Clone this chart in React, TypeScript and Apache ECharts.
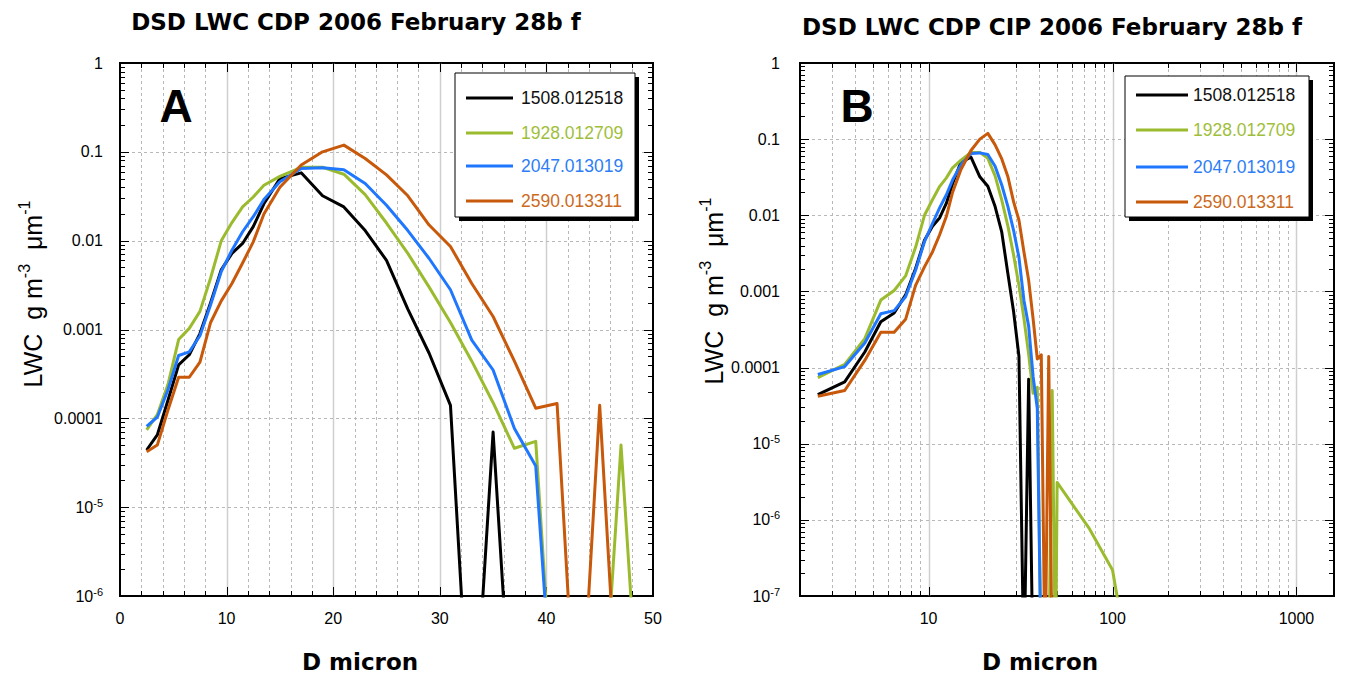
import React, { useEffect, useRef } from 'react';
import * as echarts from 'echarts';

// ---------------- data ----------------
const cdpDiameters = [2.5, 3.5, 4.5, 5.5, 6.5, 7.5, 8.5, 9.5, 10.5, 11.5, 12.5, 13.5, 15, 17, 19, 21, 23, 25, 27, 29, 31, 33, 35, 37, 39, 41, 43, 45, 47, 49];
const cipDiameters = [50, 75, 100, 125];

const seriesNames = ['1508.012518', '1928.012709', '2047.013019', '2590.013311'];
const seriesColors = ['#000000', '#9bbb2f', '#1f77ff', '#c8580a'];
const legendTextColors = ['#111111', '#9fbe3a', '#2d7df7', '#cc6a22'];

const cdpBlack = [4.4e-5, 6.5e-5, 1.6e-4, 4.0e-4, 5.2e-4, 9.0e-4, 2.0e-3, 4.7e-3, 7.2e-3, 9.3e-3, 1.44e-2, 2.6e-2, 5.0e-2, 5.8e-2, 3.2e-2, 2.4e-2, 1.3e-2, 6.0e-3, 1.7e-3, 5.4e-4, 1.4e-4, 0, 7.0e-5, 0, 0, 0, 0, 0, 0, 0];
const cdpGreen = [7.4e-5, 1.1e-4, 2.4e-4, 7.7e-4, 1.03e-3, 1.6e-3, 3.8e-3, 1.0e-2, 1.6e-2, 2.4e-2, 3.1e-2, 4.2e-2, 5.3e-2, 6.7e-2, 6.7e-2, 5.6e-2, 3.3e-2, 1.58e-2, 7.2e-3, 3.0e-3, 1.2e-3, 4.4e-4, 1.5e-4, 4.6e-5, 5.5e-5, 0, 0, 0, 5.0e-5, 0];
const cdpBlue = [8.1e-5, 1.03e-4, 2.1e-4, 5.1e-4, 5.6e-4, 8.5e-4, 1.9e-3, 4.5e-3, 7.8e-3, 1.26e-2, 1.86e-2, 2.9e-2, 4.6e-2, 6.5e-2, 6.6e-2, 6.3e-2, 4.4e-2, 2.5e-2, 1.3e-2, 6.3e-3, 2.8e-3, 7.6e-4, 3.5e-4, 7.7e-5, 2.9e-5, 0, 0, 0, 0, 0];
const cdpOrange = [4.2e-5, 5.0e-5, 1.24e-4, 2.9e-4, 2.9e-4, 4.3e-4, 1.2e-3, 2.1e-3, 3.3e-3, 5.6e-3, 9.7e-3, 2.0e-2, 4.0e-2, 7.1e-2, 1.0e-1, 1.19e-1, 8.4e-2, 5.5e-2, 3.2e-2, 1.5e-2, 8.6e-3, 3.3e-3, 1.4e-3, 4.4e-4, 1.3e-4, 1.47e-4, 0, 1.4e-4, 0, 0];

const cipBlack = [0, 0, 0, 0];
const cipGreen = [3.1e-6, 7.6e-7, 2.2e-7, 0];
const cipBlue = [0, 0, 0, 0];
const cipOrange = [0, 0, 0, 0];

const cdpValues = [cdpBlack, cdpGreen, cdpBlue, cdpOrange];
const cipValues = [cipBlack, cipGreen, cipBlue, cipOrange];

const panelATitle = 'DSD LWC CDP 2006 February 28b f';
const panelBTitle = 'DSD LWC CDP CIP 2006 February 28b f';
const xAxisTitle = 'D micron';
const yAxisTitle = 'LWC  g m{sup|-3}  \u03bcm{sup|-1}';

// axis ranges & decorations
const xRangeA = [0, 50];
const yRangeA = [1e-6, 1];
const xRangeB = [2, 1600];
const yRangeB = [1e-7, 1];
const linearMinorA = [2, 4, 6, 8, 12, 14, 16, 18, 22, 24, 26, 28, 32, 34, 36, 38, 42, 44, 46, 48];
const linearMajorA = [10, 20, 30, 40];
const logFactors = [2, 3, 4, 5, 6, 7, 8, 9];
const yDecadesA = [1e-6, 1e-5, 1e-4, 1e-3, 1e-2, 1e-1, 1];
const yDecadesB = [1e-7, 1e-6, 1e-5, 1e-4, 1e-3, 1e-2, 1e-1, 1];
const xDecadesB = [1, 10, 100, 1000];

const ZERO_FLOOR = 1e-8;
const FONT = '"Liberation Sans", Arial, sans-serif';
const BOLD_FONT = '"DejaVu Sans", sans-serif';

const pairs = (xs: number[], ys: number[]) => xs.map((x, i) => [x, ys[i] > 0 ? ys[i] : ZERO_FLOOR]);

const minorsOf = (decades: number[], lo: number, hi: number) => {
  const out: number[] = [];
  decades.forEach((d) => logFactors.forEach((f) => {
    const v = d * f;
    if (v > lo * 1.0001 && v < hi * 0.9999) out.push(v);
  }));
  return out;
};

const yLabel = (v: number) => {
  const l = Math.log10(v);
  const e = Math.round(l);
  if (Math.abs(l - e) > 1e-6) return '';
  if (e >= 0) return String(Math.round(10 ** e));
  if (e >= -4) return (10 ** e).toFixed(-e);
  return `10{sup|${e}}`;
};

const xLabelB = (v: number) => {
  const l = Math.log10(v);
  const e = Math.round(l);
  if (Math.abs(l - e) > 1e-6 || e < 1) return '';
  return String(Math.round(10 ** e));
};

type Deco = {
  xMinor: number[]; xMajor: number[]; yMinor: number[]; yMajor: number[];
  xGridDashed: number[]; xGridSolid: number[]; yGridDashed: number[];
  xr: number[]; yr: number[];
};

const makeDeco = (d: Deco) => (params: any, api: any) => {
  const children: any[] = [];
  const p = (x: number, y: number) => api.coord([x, y]);
  const left = p(d.xr[0], d.yr[0])[0];
  const right = p(d.xr[1], d.yr[0])[0];
  const bottom = p(d.xr[0], d.yr[0])[1];
  const top = p(d.xr[0], d.yr[1])[1];
  const r = (v: number) => Math.round(v) + 0.5;
  const dashed = { stroke: '#b8b8b8', lineWidth: 1, lineDash: [3, 3] };
  const solid = { stroke: '#cfcfcf', lineWidth: 1.5 };
  const tick = { stroke: '#000', lineWidth: 1 };
  d.xGridDashed.forEach((v) => {
    const x = r(p(v, d.yr[0])[0]);
    children.push({ type: 'line', shape: { x1: x, y1: top, x2: x, y2: bottom }, style: dashed });
  });
  d.xGridSolid.forEach((v) => {
    const x = r(p(v, d.yr[0])[0]);
    children.push({ type: 'line', shape: { x1: x, y1: top, x2: x, y2: bottom }, style: solid });
  });
  d.yGridDashed.forEach((v) => {
    const y = r(p(d.xr[0], v)[1]);
    children.push({ type: 'line', shape: { x1: left, y1: y, x2: right, y2: y }, style: dashed });
  });
  const xt = (vals: number[], len: number) => vals.forEach((v) => {
    const x = r(p(v, d.yr[0])[0]);
    children.push({ type: 'line', shape: { x1: x, y1: bottom, x2: x, y2: bottom - len }, style: tick });
    children.push({ type: 'line', shape: { x1: x, y1: top, x2: x, y2: top + len }, style: tick });
  });
  const yt = (vals: number[], len: number) => vals.forEach((v) => {
    const y = r(p(d.xr[0], v)[1]);
    children.push({ type: 'line', shape: { x1: left, y1: y, x2: left + len, y2: y }, style: tick });
    children.push({ type: 'line', shape: { x1: right, y1: y, x2: right - len, y2: y }, style: tick });
  });
  xt(d.xMinor, 5);
  xt(d.xMajor, 9);
  yt(d.yMinor, 5);
  yt(d.yMajor, 9);
  return { type: 'group', children };
};

const legendElements = (left: number, top: number, width: number, height: number, rowYs: number[], lineX: number[], textX: number) => {
  const els: any[] = [];
  els.push({ type: 'rect', shape: { x: left + 4, y: top + 4, width, height }, style: { fill: '#000' }, z: 100 });
  els.push({ type: 'rect', shape: { x: left, y: top, width, height }, style: { fill: '#fff', stroke: '#000', lineWidth: 1 }, z: 101 });
  seriesNames.forEach((name, i) => {
    els.push({ type: 'line', shape: { x1: lineX[0], y1: rowYs[i], x2: lineX[1], y2: rowYs[i] }, style: { stroke: seriesColors[i], lineWidth: 3 }, z: 102 });
    els.push({
      type: 'text', x: textX, y: rowYs[i], z: 102,
      style: { text: name, fill: legendTextColors[i], fontSize: 17.5, fontFamily: FONT, align: 'left', verticalAlign: 'middle', textAlign: 'left', textVerticalAlign: 'middle' },
    });
  });
  return els;
};

const textEl = (text: string, x: number, y: number, fontSize: number, family: string, weight: string, extra: any = {}) => ({
  type: 'text', x, y, z: 110, ...extra,
  style: {
    text, fill: '#000', fontSize, fontFamily: family, fontWeight: weight,
    align: 'center', verticalAlign: 'middle', textAlign: 'center', textVerticalAlign: 'middle',
    ...(extra.style || {}),
  },
});

export default function App() {
  const ref = useRef<HTMLDivElement>(null);
  useEffect(() => {
    if (!ref.current) return;
    const chart = echarts.init(ref.current, undefined, { renderer: 'svg' });

    const axisLabelBase = { fontSize: 16, color: '#000', fontFamily: FONT };
    const supRich = { sup: { fontSize: 11, fontFamily: FONT, color: '#000', verticalAlign: 'top', lineHeight: 11 } };
    const yNameRich = { sup: { fontSize: 16, fontFamily: FONT, fill: '#000', verticalAlign: 'top', lineHeight: 16 } };

    const decoA: Deco = {
      xMinor: linearMinorA, xMajor: linearMajorA,
      yMinor: minorsOf(yDecadesA, yRangeA[0], yRangeA[1]), yMajor: yDecadesA,
      xGridDashed: linearMinorA, xGridSolid: linearMajorA,
      yGridDashed: yDecadesA.filter((v) => v > yRangeA[0] && v < yRangeA[1]),
      xr: xRangeA, yr: yRangeA,
    };
    const xMinorB = minorsOf(xDecadesB, xRangeB[0], xRangeB[1]);
    const xMajorB = xDecadesB.filter((v) => v > xRangeB[0] && v < xRangeB[1]);
    const decoB: Deco = {
      xMinor: xMinorB, xMajor: xMajorB,
      yMinor: minorsOf(yDecadesB, yRangeB[0], yRangeB[1]), yMajor: yDecadesB,
      xGridDashed: xMinorB, xGridSolid: xMajorB,
      yGridDashed: yDecadesB.filter((v) => v > yRangeB[0] && v < yRangeB[1]),
      xr: xRangeB, yr: yRangeB,
    };

    const lineSeries: any[] = [];
    [0, 1].forEach((panel) => {
      seriesNames.forEach((name, i) => {
        const data = panel === 0
          ? pairs(cdpDiameters, cdpValues[i])
          : pairs(cdpDiameters.concat(cipDiameters), cdpValues[i].concat(cipValues[i]));
        lineSeries.push({
          type: 'line', name, xAxisIndex: panel, yAxisIndex: panel, data,
          showSymbol: false, symbol: 'none', clip: true, z: 3, silent: true,
          lineStyle: { width: 3, color: seriesColors[i], join: 'round' },
          itemStyle: { color: seriesColors[i] },
        });
      });
    });

    const option: any = {
      animation: false,
      backgroundColor: '#fff',
      grid: [
        { left: 120, top: 63, width: 533, height: 533, show: true, borderColor: '#000', borderWidth: 2, backgroundColor: 'transparent' },
        { left: 800, top: 63, width: 534, height: 533, show: true, borderColor: '#000', borderWidth: 2, backgroundColor: 'transparent' },
      ],
      xAxis: [
        {
          gridIndex: 0, type: 'value', min: xRangeA[0], max: xRangeA[1], interval: 10,
          axisLine: { show: false }, axisTick: { show: false }, splitLine: { show: false },
          axisLabel: { ...axisLabelBase, margin: 14 },
        },
        {
          gridIndex: 1, type: 'log', logBase: 10, min: xRangeB[0], max: xRangeB[1],
          axisLine: { show: false }, axisTick: { show: false }, splitLine: { show: false }, minorTick: { show: false },
          axisLabel: { ...axisLabelBase, margin: 14, formatter: xLabelB, showMinLabel: false, showMaxLabel: false, hideOverlap: false },
        },
      ],
      yAxis: [
        {
          gridIndex: 0, type: 'log', logBase: 10, min: yRangeA[0], max: yRangeA[1],
          axisLine: { show: false }, axisTick: { show: false }, splitLine: { show: false },
          axisLabel: { ...axisLabelBase, margin: 17, formatter: yLabel, rich: supRich, lineHeight: 20 },
        },
        {
          gridIndex: 1, type: 'log', logBase: 10, min: yRangeB[0], max: yRangeB[1],
          axisLine: { show: false }, axisTick: { show: false }, splitLine: { show: false },
          axisLabel: { ...axisLabelBase, margin: 20, formatter: yLabel, rich: supRich, lineHeight: 20 },
        },
      ],
      series: [
        {
          type: 'custom', xAxisIndex: 0, yAxisIndex: 0, data: [[xRangeA[0], yRangeA[0]]],
          renderItem: makeDeco(decoA), z: 1, silent: true,
        },
        {
          type: 'custom', xAxisIndex: 1, yAxisIndex: 1, data: [[xRangeB[0], yRangeB[0]]],
          renderItem: makeDeco(decoB), z: 1, silent: true,
        },
        ...lineSeries,
      ],
      graphic: [
        textEl(panelATitle, 356, 22, 23, BOLD_FONT, 'bold'),
        textEl(panelBTitle, 1052, 27, 23, BOLD_FONT, 'bold'),
        textEl(xAxisTitle, 360, 662, 23, BOLD_FONT, 'bold'),
        textEl(xAxisTitle, 1040, 662, 23, BOLD_FONT, 'bold'),
        textEl('A', 176, 106, 46, FONT, 'bold'),
        textEl('B', 857, 106, 46, FONT, 'bold'),
        textEl(yAxisTitle, 33, 294, 25, FONT, 'normal', {
          rotation: Math.PI / 2,
          style: { lineHeight: 34, rich: yNameRich },
        }),
        textEl(yAxisTitle, 714, 291, 25, FONT, 'normal', {
          rotation: Math.PI / 2,
          style: { lineHeight: 34, rich: yNameRich },
        }),
        ...legendElements(455, 73, 180, 144, [98, 133, 166, 201], [466, 513], 521),
        ...legendElements(1125, 76, 184, 141, [95, 130, 167, 202], [1136, 1188], 1193),
      ],
    };

    chart.setOption(option);
    return () => chart.dispose();
  }, []);

  return <div ref={ref} style={{ position: 'fixed', left: 0, top: 0, width: 1345, height: 679 }} />;
}
